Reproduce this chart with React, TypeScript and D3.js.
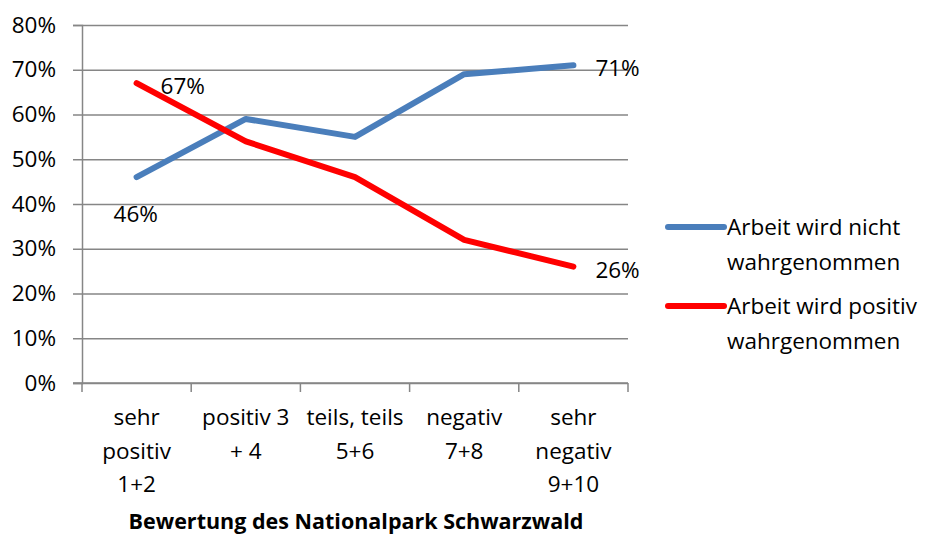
import * as d3 from "d3"
import React from "react"

const categories = ["sehr positiv 1+2", "positiv 3 + 4", "teils, teils 5+6", "negativ 7+8", "sehr negativ 9+10"]
const categoryLines = [["sehr", "positiv", "1+2"], ["positiv 3", "+ 4"], ["teils, teils", "5+6"], ["negativ", "7+8"], ["sehr", "negativ", "9+10"]]
const nichtWahrgenommen = [0.46, 0.59, 0.55, 0.69, 0.71]
const positivWahrgenommen = [0.67, 0.54, 0.46, 0.32, 0.26]
const yTicks = [0, 0.1, 0.2, 0.3, 0.4, 0.5, 0.6, 0.7, 0.8]

const series = [
  { name: ["Arbeit wird nicht", "wahrgenommen"], values: nichtWahrgenommen, color: "#4a7ebb" },
  { name: ["Arbeit wird positiv", "wahrgenommen"], values: positivWahrgenommen, color: "#ff0000" },
]

const width = 927
const height = 535
const font = "'Open Sans', sans-serif"
const fs = 22.5

const App = () => {
  const x = d3.scaleBand(categories, [82, 628])
  const y = d3.scaleLinear([0, 0.8], [383, 25])
  const fmt = d3.format(".0%")
  const cx = (i: number) => x(categories[i])! + x.bandwidth() / 2
  const line = d3.line<number>()
    .x((_, i) => cx(i))
    .y(d => y(d))

  const xAxisRef = React.useRef<SVGGElement>(null)
  const yAxisRef = React.useRef<SVGGElement>(null)

  React.useEffect(() => {
    const ya = d3.axisLeft(y).tickValues(yTicks).tickFormat(fmt as any).tickSize(9).tickPadding(17)
    d3.select(yAxisRef.current!).call(ya as any)
      .call(g => g.select(".domain").attr("stroke", "#868686").attr("stroke-width", 1.5))
      .call(g => g.selectAll(".tick line").clone()
        .attr("x2", 628 - 82).attr("stroke", "#868686").attr("stroke-width", 1.5))
      .call(g => g.selectAll(".tick line").attr("stroke", "#868686").attr("stroke-width", 1.5))
      .call(g => g.selectAll(".tick text").attr("font-size", fs).attr("font-family", font).attr("fill", "#000"))

    const bounds = [...categories.map(c => x(c)!), 628]
    const xa = d3.select(xAxisRef.current!)
    xa.selectAll("*").remove()
    xa.append("line").attr("x1", 73).attr("x2", 628).attr("y1", 0).attr("y2", 0)
      .attr("stroke", "#868686").attr("stroke-width", 1.5)
    xa.selectAll("line.t").data(bounds).join("line").attr("class", "t")
      .attr("x1", d => d).attr("x2", d => d).attr("y1", 0).attr("y2", 9)
      .attr("stroke", "#868686").attr("stroke-width", 1.5)
  }, [])

  return (
    <svg width={width} height={height} style={{ position: "absolute", left: 0, top: 0, background: "#fff" }} fontFamily={font}>
      <g ref={yAxisRef} transform="translate(82,0)" />
      <g ref={xAxisRef} transform="translate(0,383)" />
      {categoryLines.map((lines, i) => (
        <text key={i} textAnchor="middle" fontSize={fs} fill="#000">
          {lines.map((l, j) => <tspan key={j} x={cx(i)} y={425 + j * 33.5}>{l}</tspan>)}
        </text>
      ))}
      <text x={356} y={529} textAnchor="middle" fontSize={21.5} fontWeight="bold" fill="#000">Bewertung des Nationalpark Schwarzwald</text>
      {series.map((s, si) => (
        <path key={si} d={line(s.values)!} fill="none" stroke={s.color} strokeWidth={6} strokeLinecap="round" strokeLinejoin="round" />
      ))}
      {/* data labels */}
      <text x={cx(0) - 23} y={y(nichtWahrgenommen[0]) + 45} fontSize={fs}>{fmt(nichtWahrgenommen[0])}</text>
      <text x={cx(4) + 22} y={y(nichtWahrgenommen[4]) + 11} fontSize={fs}>{fmt(nichtWahrgenommen[4])}</text>
      <text x={cx(0) + 24} y={y(positivWahrgenommen[0]) + 11} fontSize={fs}>{fmt(positivWahrgenommen[0])}</text>
      <text x={cx(4) + 22} y={y(positivWahrgenommen[4]) + 11} fontSize={fs}>{fmt(positivWahrgenommen[4])}</text>
      {series.map((s, si) => (
        <g key={si} transform={`translate(668,${227 + si * 79})`}>
          <line x1={0} x2={56} y1={0} y2={0} stroke={s.color} strokeWidth={6} strokeLinecap="round" />
          {s.name.map((n, j) => <text key={j} x={59} y={8 + j * 35} fontSize={fs}>{n}</text>)}
        </g>
      ))}
    </svg>
  )
}

export default App
